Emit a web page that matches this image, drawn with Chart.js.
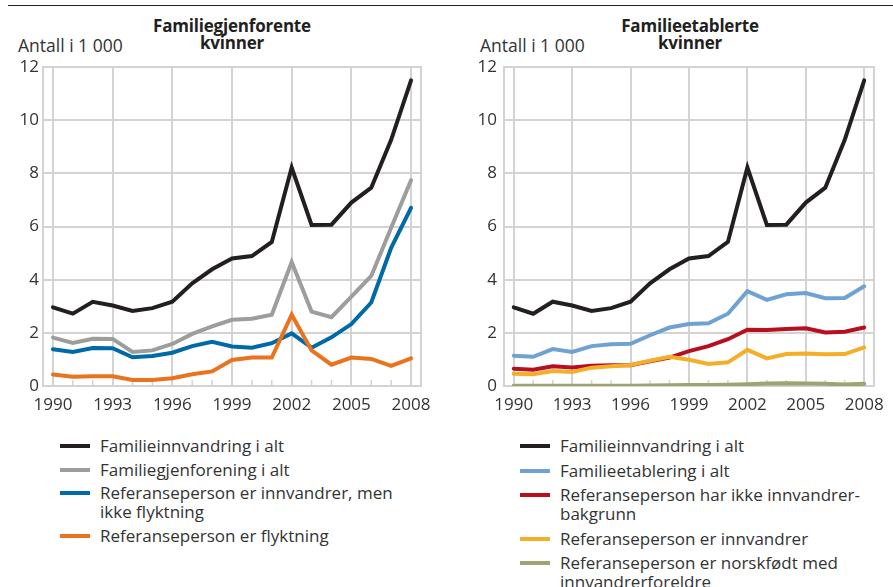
<!DOCTYPE html>
<html>
<head>
<meta charset="utf-8">
<script src="https://cdn.jsdelivr.net/npm/chart.js@4/dist/chart.umd.min.js"></script>
<style>
  html, body { margin:0; padding:0; background:#fff; }
  body { width:893px; height:587px; position:relative; overflow:hidden; font-family:"Open Sans", sans-serif; color:#333; }
  .topline { position:absolute; left:8px; top:5px; width:885px; height:0; border-top:1.5px solid #222; }
  .title { position:absolute; top:17px; font-weight:bold; font-size:17px; line-height:17px; text-align:center; color:#231f20; letter-spacing:-0.2px; }
  .unit { position:absolute; top:33px; font-size:17.5px; color:#333; }
  .cv { position:absolute; top:0; }
  .legend { position:absolute; top:436px; font-size:17px; line-height:19px; color:#333; }
  .item { position:relative; padding-left:40px; margin-bottom:4.5px; }
  #leg2 .item { margin-bottom:5.5px; }
  .sw { position:absolute; left:0; top:8px; width:30px; height:4px; }
</style>
</head>
<body>
<div class="topline"></div>
<div class="title" style="left:112px;width:240px;">Familiegjenforente<br>kvinner</div>
<div class="unit" style="left:18px;">Antall i 1 000</div>
<div class="title" style="left:570px;width:240px;">Familieetablerte<br>kvinner</div>
<div class="unit" style="left:480px;">Antall i 1 000</div>
<canvas id="c1" class="cv" style="left:0px" width="446" height="430"></canvas>
<canvas id="c2" class="cv" style="left:446px" width="447" height="430"></canvas>
<div id="leg1" class="legend" style="left:60px;width:370px;"></div>
<div id="leg2" class="legend" style="left:520px;width:373px;"></div>
<script>
const years = ['1990','1991','1992','1993','1994','1995','1996','1997','1998','1999','2000','2001','2002','2003','2004','2005','2006','2007','2008'];
const yTicks = [0,2,4,6,8,10,12];

const familieinnvandring = [2.96,2.72,3.17,3.03,2.82,2.93,3.17,3.86,4.39,4.80,4.89,5.42,8.22,6.06,6.07,6.90,7.46,9.26,11.50];
const familiegjenforening = [1.82,1.62,1.78,1.77,1.28,1.34,1.58,1.96,2.24,2.49,2.53,2.68,4.66,2.80,2.59,3.36,4.14,5.95,7.74];
const innvandrerIkkeFlyktning = [1.38,1.28,1.43,1.42,1.08,1.13,1.25,1.50,1.66,1.49,1.44,1.61,1.98,1.44,1.83,2.33,3.14,5.20,6.70];
const flyktning = [0.43,0.35,0.37,0.37,0.23,0.23,0.29,0.44,0.55,0.98,1.07,1.07,2.68,1.34,0.80,1.07,1.02,0.76,1.04];

const familieetablering = [1.14,1.10,1.39,1.28,1.50,1.57,1.59,1.91,2.20,2.33,2.36,2.72,3.57,3.24,3.45,3.50,3.30,3.31,3.75];
const ikkeInnvandrerbakgrunn = [0.65,0.61,0.74,0.70,0.76,0.78,0.78,0.93,1.07,1.31,1.50,1.76,2.12,2.11,2.14,2.17,2.01,2.04,2.20];
const innvandrer = [0.46,0.44,0.56,0.53,0.69,0.74,0.79,0.95,1.10,0.99,0.83,0.89,1.36,1.04,1.20,1.22,1.19,1.20,1.45];
const norskfodt = [0.01,0.01,0.01,0.01,0.01,0.01,0.01,0.02,0.03,0.04,0.04,0.05,0.07,0.09,0.10,0.09,0.08,0.06,0.08];

const C = { black:'#231f20', gray:'#9d9d9c', blue:'#0069a8', orange:'#e9731f', lblue:'#6fa2d2', red:'#b80f1f', yellow:'#f4ae2a', green:'#9ca572', grid:'#d3d3d3' };

const series1 = [
  { label:'Familieinnvandring i alt', data:familieinnvandring, color:C.black },
  { label:'Familiegjenforening i alt', data:familiegjenforening, color:C.gray },
  { label:'Referanseperson er innvandrer, men<br>ikke flyktning', data:innvandrerIkkeFlyktning, color:C.blue },
  { label:'Referanseperson er flyktning', data:flyktning, color:C.orange }
];
const series2 = [
  { label:'Familieinnvandring i alt', data:familieinnvandring, color:C.black },
  { label:'Familieetablering i alt', data:familieetablering, color:C.lblue },
  { label:'Referanseperson har ikke innvandrer-<br>bakgrunn', data:ikkeInnvandrerbakgrunn, color:C.red },
  { label:'Referanseperson er innvandrer', data:innvandrer, color:C.yellow },
  { label:'Referanseperson er norskfødt med<br>innvandrerforeldre', data:norskfodt, color:C.green }
];

const frame = {
  id:'frame',
  beforeDatasetsDraw(chart) {
    const {ctx, chartArea:a, scales:{x}} = chart;
    ctx.save();
    ctx.strokeStyle = C.grid;
    ctx.lineWidth = 2;
    ctx.strokeRect(a.left, a.top, a.right - a.left, a.bottom - a.top);
    ctx.lineWidth = 1.5;
    years.forEach((y,i) => {
      if (i % 3 !== 0) {
        const px = x.getPixelForValue(i);
        ctx.beginPath(); ctx.moveTo(px, a.bottom); ctx.lineTo(px, a.bottom - 6); ctx.stroke();
      }
    });
    ctx.restore();
  }
};

function makeChart(id, series, yWidth, rightPad, yPad) {
  new Chart(document.getElementById(id), {
    type:'line',
    data:{ labels:years, datasets:series.slice().reverse().map(s => ({
      label:s.label, data:s.data, borderColor:s.color, backgroundColor:s.color,
      borderWidth:4, pointRadius:0, tension:0, borderJoinStyle:'miter', borderCapStyle:'round'
    })) },
    options:{
      responsive:false, animation:false,
      layout:{ padding:{ left:0, right:rightPad, top:67, bottom:0 } },
      plugins:{ legend:{display:false}, tooltip:{enabled:false} },
      scales:{
        x:{
          offset:true,
          grid:{ drawTicks:false, lineWidth:2, color:c => (c.index % 3 === 0 ? C.grid : 'rgba(0,0,0,0)') },
          border:{ display:false },
          ticks:{ autoSkip:false, maxRotation:0, padding:9, color:'#333', font:{family:'Open Sans', size:17},
                  callback:(v,i) => (i % 3 === 0 ? years[i] : '') },
          afterFit: s => { s.height = 44; }
        },
        y:{
          min:0, max:12,
          afterBuildTicks: s => { s.ticks = yTicks.map(v => ({value:v})); },
          grid:{ drawTicks:false, lineWidth:2, color:C.grid },
          border:{ display:false },
          ticks:{ padding:yPad, color:'#333', font:{family:'Open Sans', size:17} },
          afterFit: s => { s.width = yWidth; }
        }
      }
    },
    plugins:[frame]
  });
}
makeChart('c1', series1, 43, 25, 4);
makeChart('c2', series2, 58, 13, 7);

function legend(id, series) {
  document.getElementById(id).innerHTML = series.map(s =>
    '<div class="item"><span class="sw" style="background:'+s.color+'"></span>'+s.label+'</div>').join('');
}
legend('leg1', series1);
legend('leg2', series2);
</script>
</body>
</html>
